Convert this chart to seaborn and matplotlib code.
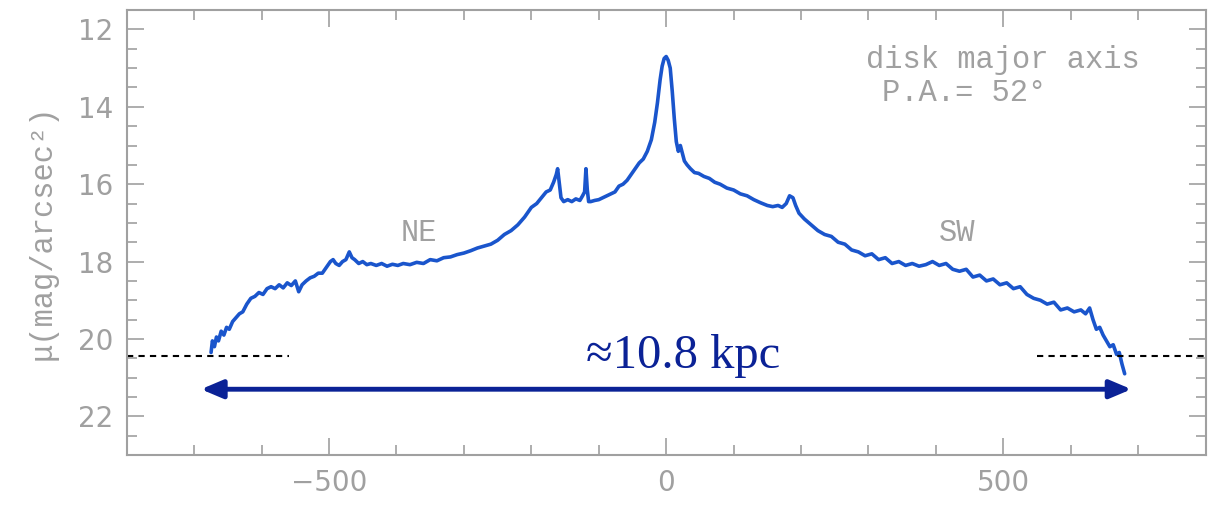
import numpy as np
import pandas as pd
import seaborn as sns
import matplotlib.pyplot as plt
from matplotlib.ticker import MultipleLocator

# surface brightness profile along the disk major axis
r_ne = [-675, -673, -670, -667, -664, -660, -656, -652, -648, -643, -638, -633, -628, -622,
        -616, -610, -604, -598, -592, -586, -580, -574, -568, -562, -556, -550, -545, -540,
        -534, -528, -522, -516, -510, -504, -498, -494, -490, -485, -480, -475, -470, -466,
        -462, -456, -450, -444, -438, -430, -422, -414, -406, -398, -390, -380, -370, -360,
        -350, -340, -330, -320, -310, -300, -290, -280, -270]
mu_ne = [20.35, 20.05, 20.2, 19.95, 20.05, 19.8, 19.9, 19.7, 19.75, 19.55, 19.45, 19.35, 19.3, 19.1,
         18.95, 18.9, 18.8, 18.85, 18.7, 18.65, 18.7, 18.6, 18.68, 18.55, 18.62, 18.5, 18.78, 18.6,
         18.5, 18.42, 18.38, 18.3, 18.3, 18.15, 18.0, 17.95, 18.05, 18.1, 18.0, 17.95, 17.75, 17.9,
         17.95, 18.05, 18.0, 18.08, 18.05, 18.1, 18.05, 18.12, 18.07, 18.1, 18.05, 18.08, 18.02, 18.05,
         17.95, 17.98, 17.9, 17.88, 17.82, 17.78, 17.72, 17.65, 17.6]

r_core = [-260, -250, -240, -230, -220, -210, -200, -192, -185, -178, -172, -167, -163, -161,
          -159, -156, -152, -146, -140, -134, -128, -124, -121, -119, -117, -115, -112, -106,
          -100, -94, -88, -82, -76, -70, -64, -58, -52, -46, -40, -34, -28, -22, -17, -13, -9,
          -6, -3, 0, 3, 6, 9, 12, 15, 18, 21, 24, 27, 31, 36, 42, 48, 56, 64, 72, 80, 90, 100,
          110, 120, 130, 140, 150, 158, 166, 172, 178, 183, 188, 192, 197]
mu_core = [17.55, 17.45, 17.3, 17.2, 17.05, 16.85, 16.6, 16.5, 16.35, 16.2, 16.15, 15.95, 15.75, 15.6,
           15.9, 16.35, 16.45, 16.4, 16.45, 16.38, 16.42, 16.3, 16.2, 15.6, 16.15, 16.45, 16.45, 16.42,
           16.4, 16.35, 16.3, 16.25, 16.2, 16.05, 16.0, 15.9, 15.75, 15.6, 15.45, 15.35, 15.15, 14.85,
           14.4, 13.9, 13.3, 12.95, 12.75, 12.7, 12.8, 13.0, 13.6, 14.3, 14.9, 15.15, 15.0, 15.2, 15.4,
           15.5, 15.6, 15.7, 15.72, 15.8, 15.85, 15.95, 16.0, 16.1, 16.15, 16.25, 16.3, 16.4, 16.48,
           16.55, 16.58, 16.55, 16.6, 16.5, 16.3, 16.35, 16.55, 16.75]

r_sw = [205, 215, 225, 235, 245, 255, 265, 275, 285, 295, 305, 315, 325, 335, 345, 355, 365, 375,
        385, 395, 405, 415, 425, 435, 445, 455, 465, 475, 485, 495, 505, 515, 525, 535, 545, 555,
        565, 575, 585, 595, 605, 615, 622, 628, 633, 638, 643, 648, 653, 658, 663, 668, 672, 676, 680]
mu_sw = [16.9, 17.05, 17.2, 17.3, 17.35, 17.5, 17.55, 17.7, 17.75, 17.85, 17.8, 17.95, 17.9, 18.05,
         18.0, 18.1, 18.05, 18.12, 18.08, 18.0, 18.1, 18.05, 18.2, 18.25, 18.2, 18.4, 18.35, 18.5,
         18.45, 18.6, 18.55, 18.7, 18.65, 18.85, 18.95, 19.0, 19.1, 19.05, 19.25, 19.2, 19.3, 19.25,
         19.35, 19.2, 19.5, 19.75, 19.7, 19.9, 20.05, 20.2, 20.15, 20.4, 20.35, 20.65, 20.9]

limit_mu = 20.45
left_limit = [-800, -560]
right_limit = [550, 800]
arrow_ends = [-690, 690]
arrow_mu = 21.3

df = pd.DataFrame({'r': r_ne + r_core + r_sw, 'mu': mu_ne + mu_core + mu_sw})

sns.set_style('ticks')
plt.rcParams['font.family'] = ['DejaVu Sans']
gray = '#a0a0a0'
mono = ['Liberation Mono', 'DejaVu Sans']

fig = plt.figure(figsize=(12.19, 5.05), dpi=100)
ax = fig.add_axes([0.104, 0.099, 0.885, 0.881])

sns.lineplot(data=df, x='r', y='mu', color='#1a55cc', lw=2.6, sort=False, ax=ax)

ax.plot(left_limit, [limit_mu, limit_mu], color='black', ls=(0, (3, 2.5)), lw=1.5)
ax.plot(right_limit, [limit_mu, limit_mu], color='black', ls=(0, (3, 2.5)), lw=1.5)
ax.annotate('', xy=(arrow_ends[0], arrow_mu), xytext=(arrow_ends[1], arrow_mu),
            arrowprops=dict(arrowstyle='<|-|>,head_length=1.3,head_width=0.55',
                            color='#0b2296', lw=3.5, shrinkA=0, shrinkB=0))
ax.text(25, 20.45, '≈10.8 kpc', color='#0b2296', fontsize=35, family='Liberation Serif',
        ha='center', va='center')

ax.text(296, 12.8, 'disk major axis', color=gray, fontsize=22, family=mono, va='center')
ax.text(320, 13.65, 'P.A.= 52°', color=gray, fontsize=22, family=mono, va='center')
ax.text(-367, 17.25, 'NE', color=gray, fontsize=22, family=mono, ha='center', va='center')
ax.text(432, 17.25, 'SW', color=gray, fontsize=22, family=mono, ha='center', va='center')

ax.set_xlim(-800, 800)
ax.set_ylim(23, 11.5)
ax.xaxis.set_major_locator(MultipleLocator(500))
ax.xaxis.set_minor_locator(MultipleLocator(100))
ax.yaxis.set_major_locator(MultipleLocator(2))
ax.yaxis.set_minor_locator(MultipleLocator(0.5))
ax.tick_params(which='both', direction='in', top=True, right=True, color=gray, width=1.2,
               labelcolor=gray, labelsize=20)
ax.tick_params(which='major', length=12, pad=10)
ax.tick_params(which='minor', length=7)
ax.set_xlabel('')
ax.set_ylabel('μ(mag/arcsec²)', color=gray, fontsize=22, family=mono, labelpad=14)
for s in ax.spines.values():
    s.set_color(gray)
    s.set_linewidth(1.5)

fig.savefig('out.png', dpi=100)
